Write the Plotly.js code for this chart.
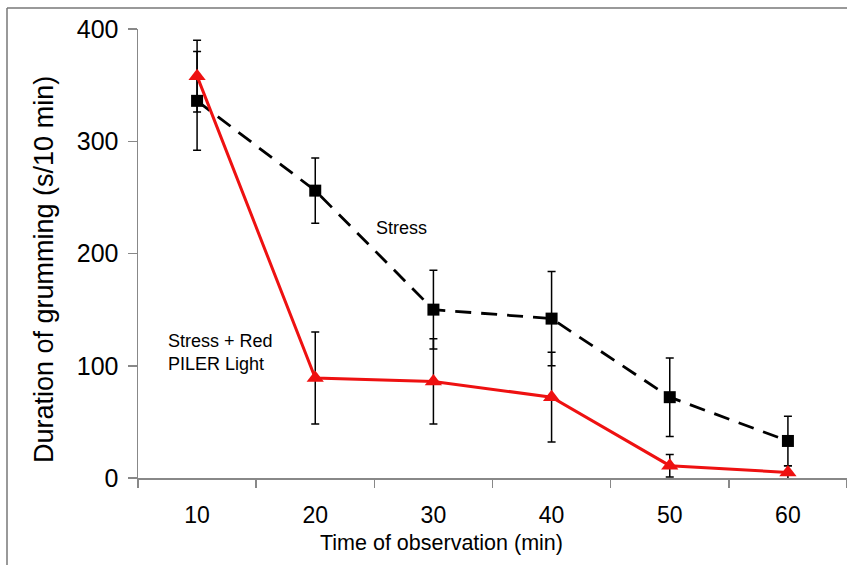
<!DOCTYPE html>
<html>
<head>
<meta charset="utf-8">
<script src="https://cdn.plot.ly/plotly-3.0.1.min.js"></script>
<style>html,body{margin:0;padding:0;background:#fff;}#chart{width:847px;height:565px;}</style>
</head>
<body>
<div id="chart"></div>
<script>
const times = ['10', '20', '30', '40', '50', '60'];
const stressValues = [336, 256, 150, 142, 72, 33];
const stressErrors = [44, 29, 35, 42, 35, 22];
const redValues = [358, 89, 86, 72, 11, 5];
const redErrors = [32, 41, 38, 40, 10, 6];
const xTitle = 'Time of observation (min)';
const yTitle = 'Duration of grumming (s/10 min)';

const fontFam = '"Liberation Sans", Arial, sans-serif';
const L = 138, T = 29, W = 709, H = 449;
const px = v => (v - L) / W;
const py = v => (T + H - v) / H;

const traces = [
  {
    x: times, y: stressValues, type: 'scatter', mode: 'lines+markers', name: 'Stress',
    line: {color: '#000', width: 2.8, dash: '16px,10px'},
    marker: {symbol: 'square', size: 12, color: '#000'},
    error_y: {type: 'data', array: stressErrors, visible: true, color: '#000', thickness: 1.5, width: 4},
    cliponaxis: false
  },
  {
    x: times, y: redValues, type: 'scatter', mode: 'lines+markers', name: 'Stress + Red PILER Light',
    line: {color: '#ee1111', width: 3},
    marker: {symbol: 'triangle-up', size: 15, color: '#ee1111'},
    error_y: {type: 'data', array: redErrors, visible: true, color: '#000', thickness: 1.5, width: 4},
    cliponaxis: false
  }
];

const layout = {
  width: 847, height: 565,
  margin: {l: L, r: 847 - L - W, t: T, b: 565 - T - H},
  paper_bgcolor: '#fff', plot_bgcolor: '#fff',
  showlegend: false,
  font: {family: fontFam, color: '#000'},
  xaxis: {
    type: 'category', range: [-0.5, 5.5], fixedrange: true,
    showline: true, linecolor: '#888', linewidth: 1.5,
    ticks: 'outside', tickson: 'boundaries', ticklen: 8, tickcolor: '#888', tickwidth: 1.5,
    ticklabelstandoff: 16,
    showgrid: false, zeroline: false,
    tickfont: {size: 23, family: fontFam, color: '#000'}
  },
  yaxis: {
    range: [0, 400], dtick: 100, tick0: 0, fixedrange: true,
    showline: true, linecolor: '#888', linewidth: 1.5,
    ticks: 'outside', ticklen: 9, tickcolor: '#888', tickwidth: 1.5,
    ticklabelstandoff: 4,
    showgrid: false, zeroline: false,
    tickfont: {size: 25, family: fontFam, color: '#000'}
  },
  annotations: [
    {text: xTitle, xref: 'paper', yref: 'paper', x: px(441), y: py(543),
     xanchor: 'center', yanchor: 'middle', showarrow: false, font: {size: 21.5, family: fontFam, color: '#000'}},
    {text: yTitle, xref: 'paper', yref: 'paper', x: px(44), y: py(270), textangle: -90,
     xanchor: 'center', yanchor: 'middle', showarrow: false, font: {size: 27, family: fontFam, color: '#000'}},
    {text: 'Stress', xref: 'paper', yref: 'paper', x: px(374), y: py(228),
     xanchor: 'left', yanchor: 'middle', showarrow: false, font: {size: 18, family: fontFam, color: '#000'}},
    {text: 'Stress + Red<br>PILER Light', xref: 'paper', yref: 'paper', x: px(166), y: py(352),
     xanchor: 'left', yanchor: 'middle', align: 'left', showarrow: false, font: {size: 18, family: fontFam, color: '#000'}}
  ],
  shapes: [
    {type: 'line', xref: 'paper', yref: 'paper', x0: px(7), x1: px(7), y0: py(8), y1: py(570),
     line: {color: '#777', width: 1.5}},
    {type: 'line', xref: 'paper', yref: 'paper', x0: px(7), x1: px(850), y0: py(8), y1: py(8),
     line: {color: '#777', width: 1.5}}
  ]
};

Plotly.newPlot('chart', traces, layout, {displayModeBar: false, staticPlot: true});
</script>
</body>
</html>
